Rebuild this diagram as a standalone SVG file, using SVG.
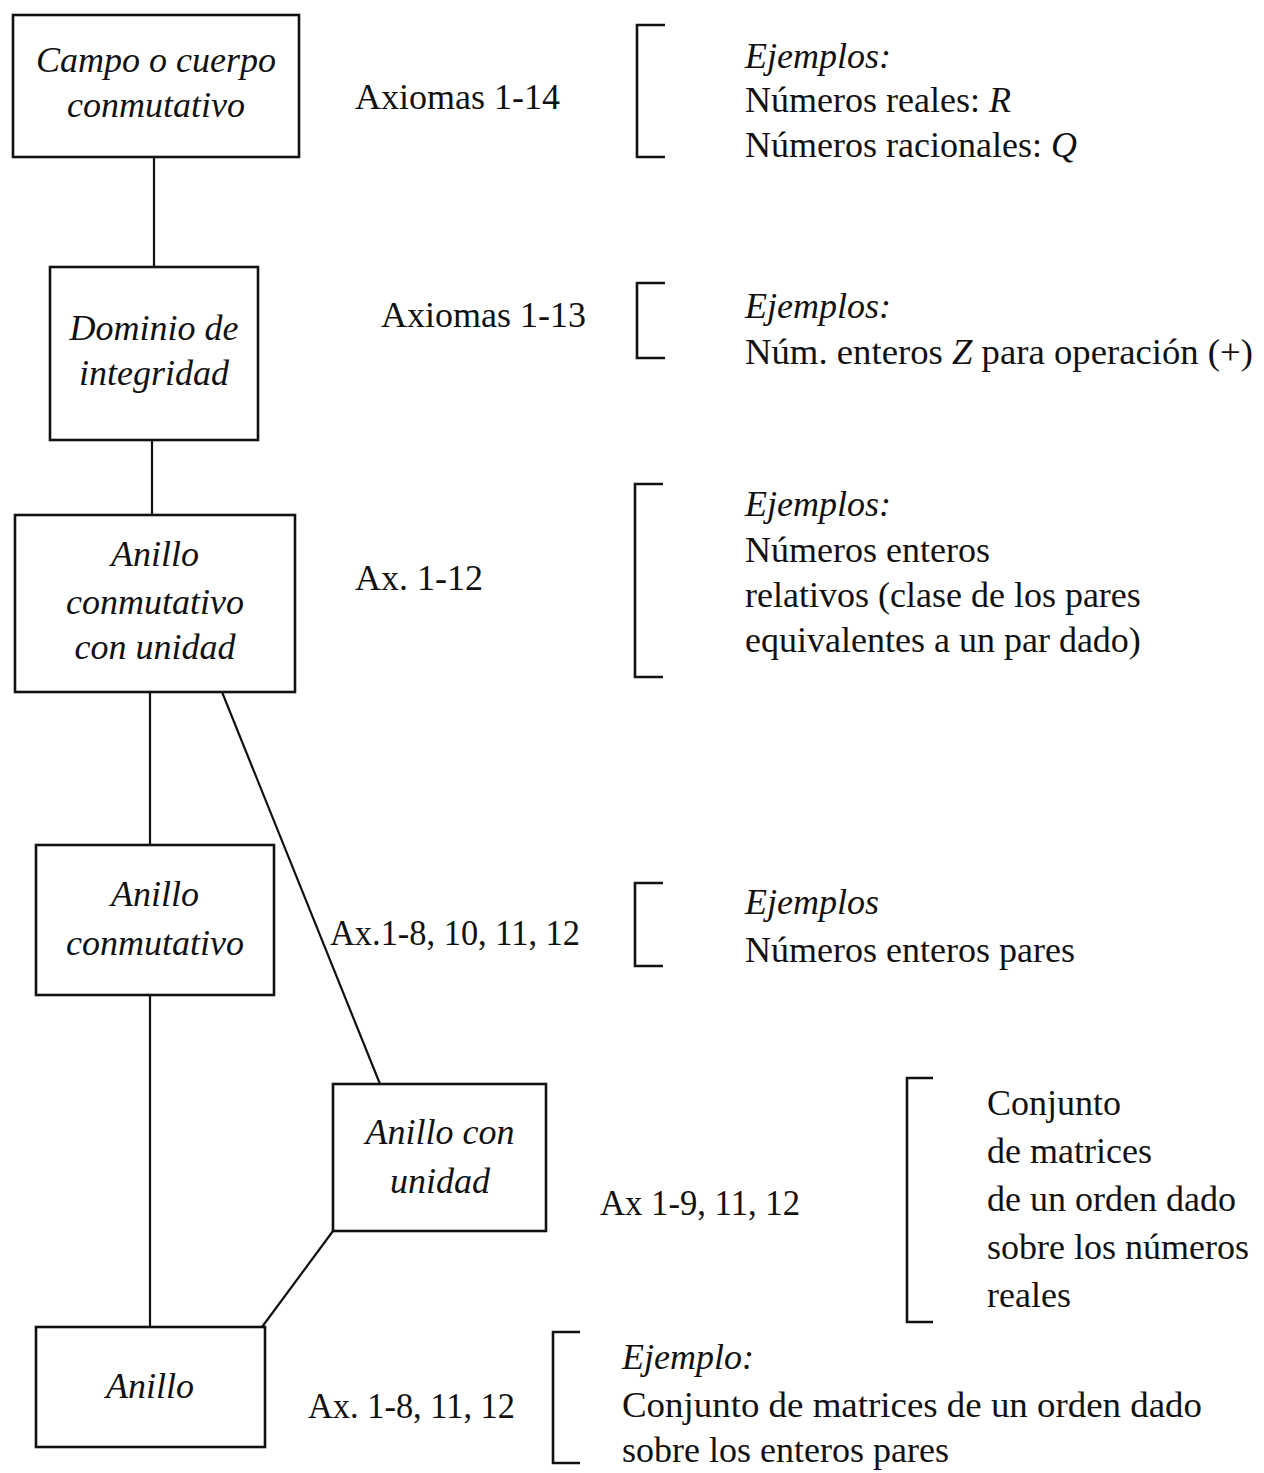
<svg xmlns="http://www.w3.org/2000/svg" width="1264" height="1473" viewBox="0 0 1264 1473">
  <style>
    .box { fill: #fff; stroke: #111; stroke-width: 2.6; }
    .edge { stroke: #111; stroke-width: 2.2; fill: none; }
    .brk { stroke: #111; stroke-width: 2.6; fill: none; }
    text { font-family: "Liberation Serif", "Times New Roman", serif; font-size: 36px; fill: #111; }
    .it { font-style: italic; }
    .c { text-anchor: middle; }
  </style>
  <rect width="1264" height="1473" fill="#fff"/>

  <!-- connectors -->
  <g id="connectors">
    <line class="edge" x1="154" y1="157" x2="154" y2="267"/>
    <line class="edge" x1="152" y1="440" x2="152" y2="515"/>
    <line class="edge" x1="150" y1="692" x2="150" y2="845"/>
    <line class="edge" x1="222" y1="692" x2="380" y2="1084"/>
    <line class="edge" x1="150" y1="995" x2="150" y2="1327"/>
    <line class="edge" x1="333" y1="1231" x2="262" y2="1327"/>
  </g>

  <!-- nodes -->
  <g id="campo">
    <rect class="box" x="13" y="15" width="286" height="142"/>
    <text class="it c" x="156" y="72">Campo  o cuerpo</text>
    <text class="it c" x="156" y="117">conmutativo</text>
  </g>
  <g id="dominio">
    <rect class="box" x="50" y="267" width="208" height="173"/>
    <text class="it c" x="154" y="340">Dominio de</text>
    <text class="it c" x="154" y="385">integridad</text>
  </g>
  <g id="anillo-conmutativo-unidad">
    <rect class="box" x="15" y="515" width="280" height="177"/>
    <text class="it c" x="155" y="566">Anillo</text>
    <text class="it c" x="155" y="614">conmutativo</text>
    <text class="it c" x="155" y="659">con unidad</text>
  </g>
  <g id="anillo-conmutativo">
    <rect class="box" x="36" y="845" width="238" height="150"/>
    <text class="it c" x="155" y="906">Anillo</text>
    <text class="it c" x="155" y="955">conmutativo</text>
  </g>
  <g id="anillo-unidad">
    <rect class="box" x="333" y="1084" width="213" height="147"/>
    <text class="it c" x="440" y="1144">Anillo con</text>
    <text class="it c" x="440" y="1193">unidad</text>
  </g>
  <g id="anillo">
    <rect class="box" x="36" y="1327" width="229" height="120"/>
    <text class="it c" x="150" y="1398">Anillo</text>
  </g>

  <!-- axiom labels -->
  <g id="axiomas">
    <text x="355" y="109">Axiomas 1-14</text>
    <text x="381" y="327">Axiomas 1-13</text>
    <text x="355" y="590">Ax. 1-12</text>
    <text x="330" y="945" textLength="250" lengthAdjust="spacingAndGlyphs">Ax.1-8, 10, 11, 12</text>
    <text x="600" y="1215" textLength="200" lengthAdjust="spacingAndGlyphs">Ax 1-9, 11, 12</text>
    <text x="308" y="1418" textLength="207" lengthAdjust="spacingAndGlyphs">Ax. 1-8, 11, 12</text>
  </g>

  <!-- example brackets -->
  <g id="brackets">
    <path class="brk" d="M665 25 H637 V157 H665"/>
    <path class="brk" d="M665 283 H637 V358 H665"/>
    <path class="brk" d="M663 484 H635 V677 H663"/>
    <path class="brk" d="M663 883 H635 V966 H663"/>
    <path class="brk" d="M933 1078 H907 V1322 H933"/>
    <path class="brk" d="M580 1332 H553 V1463 H580"/>
  </g>

  <!-- examples -->
  <g id="ejemplos-campo">
    <text class="it" x="745" y="68">Ejemplos:</text>
    <text x="745" y="112">Números reales: <tspan class="it">R</tspan></text>
    <text x="745" y="157">Números racionales: <tspan class="it">Q</tspan></text>
  </g>
  <g id="ejemplos-dominio">
    <text class="it" x="745" y="318">Ejemplos:</text>
    <text x="745" y="364" textLength="508" lengthAdjust="spacingAndGlyphs">Núm. enteros <tspan class="it">Z</tspan> para operación (+)</text>
  </g>
  <g id="ejemplos-anillo-conmutativo-unidad">
    <text class="it" x="745" y="516">Ejemplos:</text>
    <text x="745" y="562">Números enteros</text>
    <text x="745" y="607">relativos (clase de los pares</text>
    <text x="745" y="652">equivalentes a un par dado)</text>
  </g>
  <g id="ejemplos-anillo-conmutativo">
    <text class="it" x="745" y="914">Ejemplos</text>
    <text x="745" y="962">Números enteros pares</text>
  </g>
  <g id="ejemplos-anillo-unidad">
    <text x="987" y="1115">Conjunto</text>
    <text x="987" y="1163">de matrices</text>
    <text x="987" y="1211">de un orden dado</text>
    <text x="987" y="1259">sobre los números</text>
    <text x="987" y="1307">reales</text>
  </g>
  <g id="ejemplos-anillo">
    <text class="it" x="622" y="1369">Ejemplo:</text>
    <text x="622" y="1417" textLength="580" lengthAdjust="spacingAndGlyphs">Conjunto de matrices de un orden dado</text>
    <text x="622" y="1462">sobre los enteros pares</text>
  </g>
</svg>
